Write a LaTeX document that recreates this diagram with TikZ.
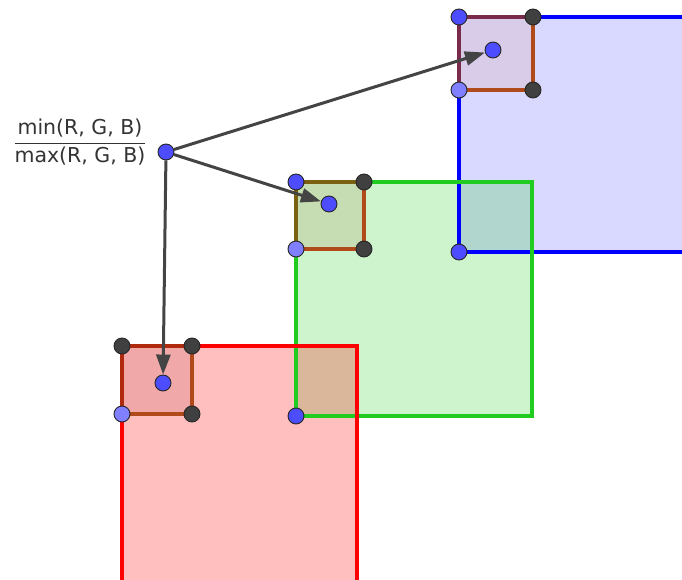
\documentclass[tikz,border=0pt]{standalone}
\usepackage{fontspec}
\setsansfont{DejaVu Sans}
\usetikzlibrary{arrows.meta}
\definecolor{ptblue}{HTML}{4D4DFF}
\definecolor{ptlight}{HTML}{7F7FFF}
\definecolor{ptdark}{HTML}{404040}
\definecolor{arrgrey}{HTML}{444444}
\definecolor{redA}{HTML}{B02A0E}
\definecolor{greenA}{HTML}{7A6010}
\definecolor{blueA}{HTML}{7A2A4A}
\definecolor{sideB}{HTML}{B04A1A}
\definecolor{redS}{HTML}{F0A8A8}
\definecolor{greenS}{HTML}{C6DCB2}
\definecolor{blueS}{HTML}{D8CCE8}
\definecolor{gline}{HTML}{1FCC1F}
\begin{document}
\begin{tikzpicture}[x=1pt,y=-1pt,
  pt/.style={circle,draw=black!85,line width=0.9pt,fill=#1,minimum size=16pt,inner sep=0pt},
  arr/.style={draw=arrgrey,line width=3pt,-{Triangle[length=20pt,width=14pt]}},
  big/.style={line width=3.5pt},
  edge/.style={line width=3.5pt,line cap=round}]
\useasboundingbox (0,0) rectangle (682,580);
\begin{scope}
\clip (0,0) rectangle (682,580);
% big squares: fills
\fill[blue,opacity=0.15] (459,17) rectangle (696,252);
\fill[gline,opacity=0.22] (296,182) rectangle (532,416);
\fill[red,opacity=0.25] (122,346) rectangle (357,583);
% big squares: outlines
\draw[big,blue] (459,17) rectangle (696,252);
\draw[big,gline] (296,182) rectangle (532,416);
\draw[big,red] (122,346) rectangle (357,583);
\end{scope}
% small squares
\fill[redS] (122,346) rectangle (192,414);
\draw[edge,sideB] (122,414) -- (192,414) -- (192,346);
\draw[edge,redA] (122,414) -- (122,346) -- (192,346);
\fill[greenS] (296,182) rectangle (364,249);
\draw[edge,sideB] (296,249) -- (364,249) -- (364,182);
\draw[edge,greenA] (296,249) -- (296,182) -- (364,182);
\fill[blueS] (459,17) rectangle (533,90);
\draw[edge,sideB] (459,90) -- (533,90) -- (533,17);
\draw[edge,blueA] (459,90) -- (459,17) -- (533,17);
% label
\node[text=black!80,font=\fontsize{20.5}{24}\selectfont] (lab) at (80,142)
  {$\displaystyle\frac{\mbox{\sffamily min(R, G, B)}}{\mbox{\sffamily max(R, G, B)}}$};
% points
\node[pt=ptblue] (s) at (166,152) {};
\node[pt=ptblue] (c1) at (163,383) {};
\node[pt=ptblue] (c2) at (329,204) {};
\node[pt=ptblue] (c3) at (493,50) {};
\draw[arr] (s) -- (c1);
\draw[arr] (s) -- (c2);
\draw[arr] (s) -- (c3);
% red small corners
\node[pt=ptdark] (r1) at (122,346) {};
\node[pt=ptdark] (r2) at (192,346) {};
\node[pt=ptlight] (r3) at (122,414) {};
\node[pt=ptdark] (r4) at (192,414) {};
% green small corners
\node[pt=ptblue] (g1) at (296,182) {};
\node[pt=ptdark] (g2) at (364,182) {};
\node[pt=ptlight] (g3) at (296,249) {};
\node[pt=ptdark] (g4) at (364,249) {};
% blue small corners
\node[pt=ptblue] (b1) at (459,17) {};
\node[pt=ptdark] (b2) at (533,17) {};
\node[pt=ptlight] (b3) at (459,90) {};
\node[pt=ptdark] (b4) at (533,90) {};
% big square corners
\node[pt=ptblue] (gc) at (296,416) {};
\node[pt=ptblue] (bc) at (459,252) {};
\end{tikzpicture}
\end{document}
